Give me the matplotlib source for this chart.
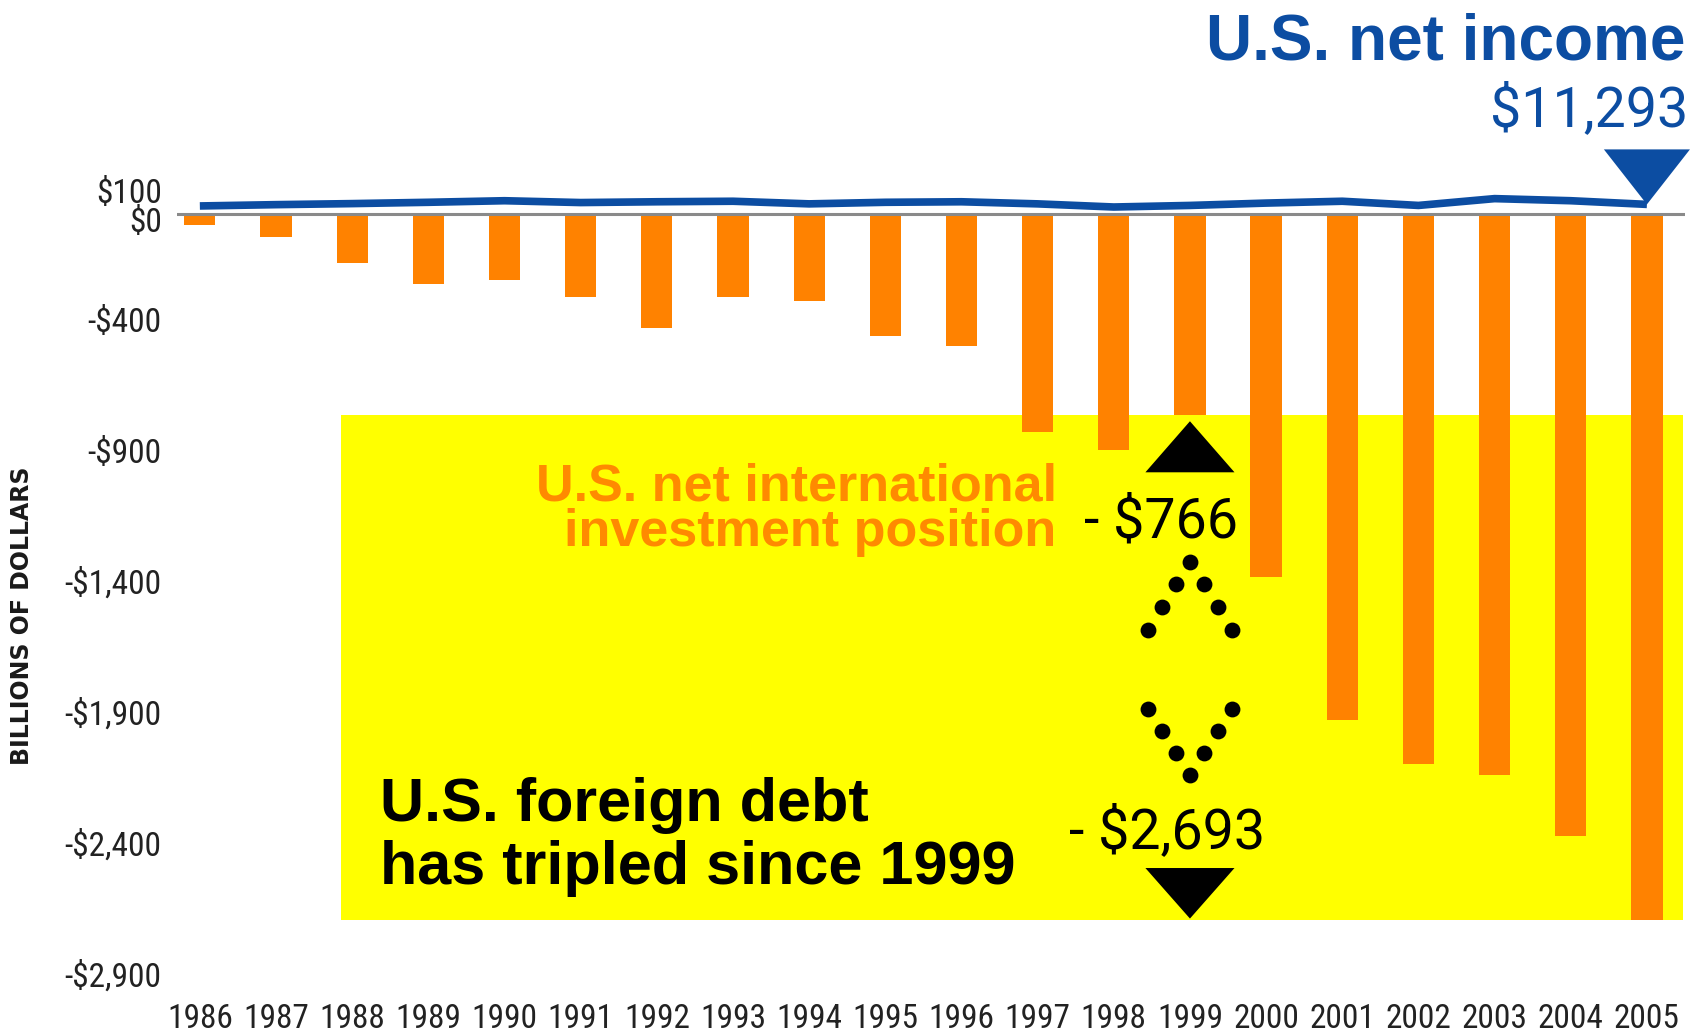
import matplotlib
matplotlib.use("Agg")
import matplotlib.pyplot as plt
import matplotlib.transforms as mtransforms
from matplotlib import font_manager
from matplotlib.patches import Polygon, Rectangle

years = list(range(1986, 2006))
niip = [-40, -88, -187, -267, -252, -317, -435, -317, -332, -466,
        -504, -830, -900, -766, -1386, -1930, -2099, -2141, -2374, -2693]
net_income = [32, 37, 41, 46, 52, 45, 48, 50, 40, 46,
              48, 40, 28, 34, 43, 50, 34, 60, 52, 38]
ytick_vals = [100, 0, -400, -900, -1400, -1900, -2400, -2900]
ytick_labels = ["$100", "$0", "-$400", "-$900", "-$1,400", "-$1,900", "-$2,400", "-$2,900"]

ORANGE = "#ff8200"
BLUE = "#0c4da2"
YELLOW = "#ffff00"


def pick(*names):
    for n in names:
        try:
            font_manager.findfont(font_manager.FontProperties(family=n), fallback_to_default=False)
            return n
        except Exception:
            pass
    return "DejaVu Sans"


NARROW = pick("Liberation Sans Narrow", "Roboto Condensed", "DejaVu Sans")
THIN = pick("Roboto", "Liberation Sans")
BOLD = pick("Liberation Sans", "DejaVu Sans")

fig = plt.figure(figsize=(16.94, 10.34), dpi=100)
ax = fig.add_axes([177 / 1694, 0.043, (1685 - 177) / 1694, 0.7877])
ax.set_xlim(1985.7, 2005.5)
ax.set_ylim(-2960, 150)

# yellow box spans the 1999 level down to the 2005 level
i99 = years.index(1999)
ax.add_patch(Rectangle((1987.85, niip[-1]), 2005.47 - 1987.85, niip[i99] - niip[-1],
                       facecolor=YELLOW, edgecolor="none", zorder=1))

ax.bar(years, niip, width=0.41, color=ORANGE, zorder=2)
ax.axhline(0, color="#8a8a8a", lw=2.2, zorder=3)
ax.plot(years, net_income, color=BLUE, lw=5.5, zorder=4, solid_capstyle="butt")

# blue marker over 2005
ax.add_patch(Polygon([(2005 - 0.565, 248), (2005 + 0.565, 248), (2005, net_income[-1])],
                     closed=True, facecolor=BLUE, edgecolor="none", clip_on=False, zorder=5))

# black arrows for 1999 -> 2005
ax.add_patch(Polygon([(1999 - 0.585, -985), (1999 + 0.585, -985), (1999, -790)],
                     closed=True, facecolor="black", edgecolor="none", zorder=5))
ax.add_patch(Polygon([(1999 - 0.585, -2496), (1999 + 0.585, -2496), (1999, -2689)],
                     closed=True, facecolor="black", edgecolor="none", zorder=5))

step_x = 0.184
up_rows = [-1328, -1412, -1500, -1586]
down_rows = [-2141, -2057, -1973, -1889]
for k in range(4):
    xs = [1999 - k * step_x, 1999 + k * step_x] if k else [1999]
    ax.scatter(xs, [up_rows[k]] * len(xs), s=130, color="black", zorder=6, linewidths=0)
    ax.scatter(xs, [down_rows[k]] * len(xs), s=130, color="black", zorder=6, linewidths=0)

ax.text(1998.62, -1233, "- $766", ha="center", va="baseline", fontsize=40,
        family=THIN, color="black", zorder=6)
ax.text(1998.7, -2420, "- $2,693", ha="center", va="baseline", fontsize=40,
        family=THIN, color="black", zorder=6)

ax.text(1997.25, -1092, "U.S. net international", ha="right", va="baseline",
        fontsize=37.5, family=BOLD, fontweight="bold", color="#ff8a00", zorder=6)
ax.text(1997.25, -1267, "investment position", ha="right", va="baseline",
        fontsize=37.5, family=BOLD, fontweight="bold", color="#ff8a00", zorder=6)

ax.text(1988.36, -2317, "U.S. foreign debt", ha="left", va="baseline",
        fontsize=44, family=BOLD, fontweight="bold", color="black", zorder=6)
ax.text(1988.36, -2557, "has tripled since 1999", ha="left", va="baseline",
        fontsize=44, family=BOLD, fontweight="bold", color="black", zorder=6)

fig.text(0.9947, 0.942, "U.S. net income", ha="right", va="baseline", fontsize=46,
         family=BOLD, fontweight="bold", color=BLUE)
fig.text(0.9965, 0.878, "$11,293", ha="right", va="baseline", fontsize=40,
         family=THIN, color=BLUE)

fig.text(22 / 1694, 1 - 616 / 1034, "BILLIONS OF DOLLARS", rotation=90, ha="center",
         va="center", fontsize=17, fontweight="bold", family="DejaVu Sans", color="#1a1a1a")

ax.set_xticks(years)
ax.set_xticklabels([str(y) for y in years], fontsize=24, family=NARROW, color="#222222")
ax.set_yticks(ytick_vals)
ax.set_yticklabels(ytick_labels, fontsize=24, family=NARROW, color="#222222")
ax.tick_params(axis="x", length=0, pad=10)
ax.tick_params(axis="y", length=0, pad=11)
for sp in ax.spines.values():
    sp.set_visible(False)

# the $0 label sits a little under the zero line, $100 a little lower too
for lab, v in zip(ax.get_yticklabels(), ytick_vals):
    if v == 0:
        lab.set_transform(lab.get_transform() + mtransforms.ScaledTranslation(0, -4 / 72, fig.dpi_scale_trans))
    elif v == 100:
        lab.set_transform(lab.get_transform() + mtransforms.ScaledTranslation(0, -2 / 72, fig.dpi_scale_trans))

fig.savefig("out.png", dpi=100)
